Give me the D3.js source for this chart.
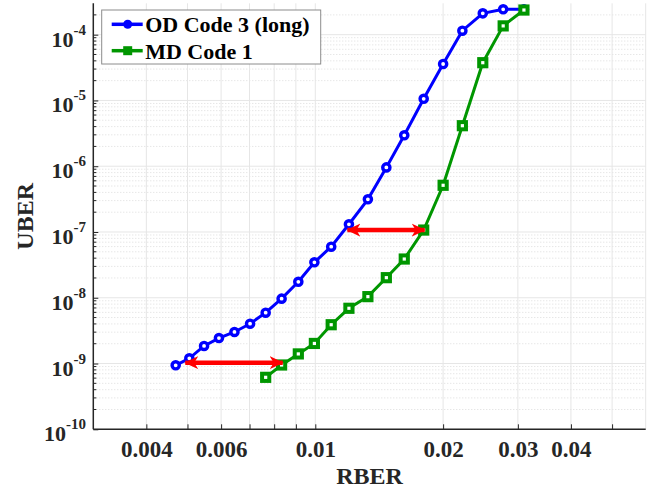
<!DOCTYPE html>
<html>
<head>
<meta charset="utf-8" />
<title>UBER vs RBER</title>
<script src="https://cdn.jsdelivr.net/npm/d3@7"></script>
<style>
	body { margin: 0; background: #fff; }
	svg { display: block; font-family: 'Liberation Serif', 'Times New Roman', serif; font-weight: bold; }
</style>
</head>
<body>
<svg id="chart"></svg>
<script>
// OD Code 3 (long)
const odRber = [0.00469, 0.00505, 0.00547, 0.00593, 0.00645, 0.00702, 0.00764, 0.00833, 0.00912, 0.00995, 0.0109, 0.0120, 0.0133, 0.0147, 0.0162, 0.0180, 0.0200, 0.0222, 0.0248, 0.0277, 0.0310];
const odUber = [9.4e-10, 1.2e-9, 1.85e-9, 2.44e-9, 3.02e-9, 4.03e-9, 5.93e-9, 9.7e-9, 1.75e-8, 3.46e-8, 5.97e-8, 1.31e-7, 3.14e-7, 9.6e-7, 2.95e-6, 1.06e-5, 3.58e-5, 1.15e-4, 2.11e-4, 2.43e-4, 2.43e-4];
// MD Code 1
const mdRber = [0.00764, 0.00833, 0.00912, 0.00995, 0.0109, 0.0120, 0.0133, 0.0147, 0.0162, 0.0180, 0.0200, 0.0222, 0.0248, 0.0277, 0.0310];
const mdUber = [6.17e-10, 9.5e-10, 1.40e-9, 2.02e-9, 3.89e-9, 6.92e-9, 1.04e-8, 2.02e-8, 3.88e-8, 1.07e-7, 5.13e-7, 4.13e-6, 3.75e-5, 1.36e-4, 2.37e-4];

// red double arrows (gap between the curves)
const arrowFrom = [0.0119, 0.00494];
const arrowTo = [0.0181, 0.00838];
const arrowAt = [1.07e-7, 1.03e-9];

const xTicks = [0.004, 0.005, 0.006, 0.007, 0.008, 0.009, 0.01, 0.02, 0.03, 0.04, 0.05];
const xLabels = ['0.004', '', '0.006', '', '', '', '0.01', '0.02', '0.03', '0.04', ''];
const yExponents = [-10, -9, -8, -7, -6, -5, -4];

const names = ['OD Code 3 (long)', 'MD Code 1'];
const colors = ['#0000ff', '#009600'];

const width = 656, height = 491;
const m = { left: 93.3, right: 10.3, top: 3.3, bottom: 61.7 };
const ink = '#262626';

const svg = d3.select('#chart').attr('width', width).attr('height', height);

const x = d3.scaleLog().domain([0.003, 0.06]).range([m.left, width - m.right]);
const y = d3.scaleLog().domain([1e-10, 3e-4]).range([height - m.bottom, m.top]);

const yMajor = yExponents.map((e) => Math.pow(10, e));
const yMinor = [];
yExponents.forEach((e) => {
	for (let k = 2; k <= 9; k++) {
		const v = k * Math.pow(10, e);
		if (v <= 3e-4) yMinor.push(v);
	}
});

// grid
const grid = svg.append('g');
grid.selectAll('.hmin').data(yMinor).enter().append('line')
	.attr('x1', x(0.003)).attr('x2', x(0.06))
	.attr('y1', (d) => y(d)).attr('y2', (d) => y(d))
	.attr('stroke', '#dcdcdc').attr('stroke-width', 1).attr('stroke-dasharray', '1,2');
grid.selectAll('.hmaj').data(yMajor).enter().append('line')
	.attr('x1', x(0.003)).attr('x2', x(0.06))
	.attr('y1', (d) => y(d)).attr('y2', (d) => y(d))
	.attr('stroke', '#e6e6e6').attr('stroke-width', 1);
grid.selectAll('.v').data(xTicks.concat([0.06])).enter().append('line')
	.attr('x1', (d) => x(d)).attr('x2', (d) => x(d))
	.attr('y1', y(1e-10)).attr('y2', y(3e-4))
	.attr('stroke', '#e6e6e6').attr('stroke-width', 1);

// axes
const xAxis = svg.append('g')
	.attr('transform', `translate(0,${y(1e-10)})`)
	.call(d3.axisBottom(x).tickValues(xTicks).tickSize(-5).tickPadding(11)
		.tickFormat((d, i) => xLabels[i]));
const yAxis = svg.append('g')
	.attr('transform', `translate(${x(0.003)},0)`)
	.call(d3.axisLeft(y).tickValues(yMajor).tickSize(-5).tickFormat(''));
[xAxis, yAxis].forEach((g) => {
	g.select('.domain').attr('stroke', ink).attr('stroke-width', 1.5);
	g.selectAll('.tick line').attr('stroke', ink);
	g.selectAll('text').attr('fill', ink).attr('font-size', 23)
		.attr('font-family', "'Liberation Serif', serif").attr('font-weight', 'bold');
});
xAxis.select('.domain').attr('d', `M${x(0.003)},0H${x(0.06)}`);
yAxis.select('.domain').attr('d', `M0,${y(1e-10)}V${y(3e-4)}`);

yAxis.selectAll('.minor').data(yMinor).enter().append('line')
	.attr('x1', 0).attr('x2', 3)
	.attr('y1', (d) => y(d)).attr('y2', (d) => y(d))
	.attr('stroke', ink);

const ylab = svg.append('g').selectAll('text').data(yExponents).enter().append('text')
	.attr('x', 86).attr('y', (d) => y(Math.pow(10, d)) + 12)
	.attr('text-anchor', 'end').attr('fill', ink).attr('font-size', 22);
ylab.append('tspan').text('10');
ylab.append('tspan').attr('dy', -12).attr('font-size', 15).text((d) => '-' + Math.abs(d));

// axis titles
svg.append('text')
	.attr('x', (x(0.003) + x(0.06)) / 2).attr('y', 484)
	.attr('text-anchor', 'middle').attr('font-size', 24).attr('fill', ink)
	.text('RBER');
svg.append('text')
	.attr('transform', `translate(33,${(y(1e-10) + y(3e-4)) / 2}) rotate(-90)`)
	.attr('text-anchor', 'middle').attr('font-size', 24).attr('fill', ink)
	.text('UBER');

// series
const series = [
	{ xs: odRber, ys: odUber, color: colors[0], marker: 'circle' },
	{ xs: mdRber, ys: mdUber, color: colors[1], marker: 'square' },
];
const line = d3.line().x((d) => x(d[0])).y((d) => y(d[1]));

function drawMarker(g, type, color) {
	if (type === 'circle') {
		g.append('circle').attr('r', 3.6).attr('fill', '#fff')
			.attr('stroke', color).attr('stroke-width', 3.4);
	} else {
		g.append('rect').attr('x', -3.6).attr('y', -3.6).attr('width', 7.2).attr('height', 7.2)
			.attr('fill', '#fff').attr('stroke', color).attr('stroke-width', 4);
	}
}

series.forEach((s) => {
	const pts = s.xs.map((v, i) => [v, s.ys[i]]);
	svg.append('path').datum(pts)
		.attr('d', line).attr('fill', 'none')
		.attr('stroke', s.color).attr('stroke-width', 3);
	pts.forEach((p) => {
		const g = svg.append('g').attr('transform', `translate(${x(p[0])},${y(p[1])})`);
		drawMarker(g, s.marker, s.color);
	});
});

// arrows
const defs = svg.append('defs');
['start', 'end'].forEach((k) => {
	defs.append('marker')
		.attr('id', 'arr-' + k)
		.attr('viewBox', '0 -7 14 14')
		.attr('refX', 13).attr('refY', 0)
		.attr('markerUnits', 'userSpaceOnUse')
		.attr('markerWidth', 14).attr('markerHeight', 14)
		.attr('orient', k === 'start' ? 'auto-start-reverse' : 'auto')
		.append('path')
		.attr('d', 'M0,-6.5L14,0L0,6.5L4,0Z')
		.attr('fill', '#ff0000');
});
arrowAt.forEach((v, i) => {
	svg.append('line')
		.attr('x1', x(arrowFrom[i])).attr('x2', x(arrowTo[i]))
		.attr('y1', y(v)).attr('y2', y(v))
		.attr('stroke', '#ff0000').attr('stroke-width', 4.5)
		.attr('marker-start', 'url(#arr-start)')
		.attr('marker-end', 'url(#arr-end)');
});

// legend
const leg = svg.append('g').attr('transform', 'translate(101.7,10)');
leg.append('rect').attr('width', 219).attr('height', 54)
	.attr('fill', '#fff').attr('stroke', '#8c8c8c').attr('stroke-width', 1);
names.forEach((n, i) => {
	const cy = 14.3 + i * 26.4;
	const row = leg.append('g').attr('transform', `translate(0,${cy})`);
	row.append('line').attr('x1', 10).attr('x2', 41).attr('y1', 0).attr('y2', 0)
		.attr('stroke', colors[i]).attr('stroke-width', 3.5);
	if (i === 0) {
		row.append('circle').attr('cx', 26).attr('r', 4.5).attr('fill', colors[i]);
	} else {
		row.append('rect').attr('x', 21.5).attr('y', -4.5).attr('width', 9).attr('height', 9)
			.attr('fill', colors[i]);
	}
	row.append('text').attr('x', 43.5).attr('y', 8).attr('font-size', 22)
		.attr('fill', '#000').text(n);
});
</script>
</body>
</html>
